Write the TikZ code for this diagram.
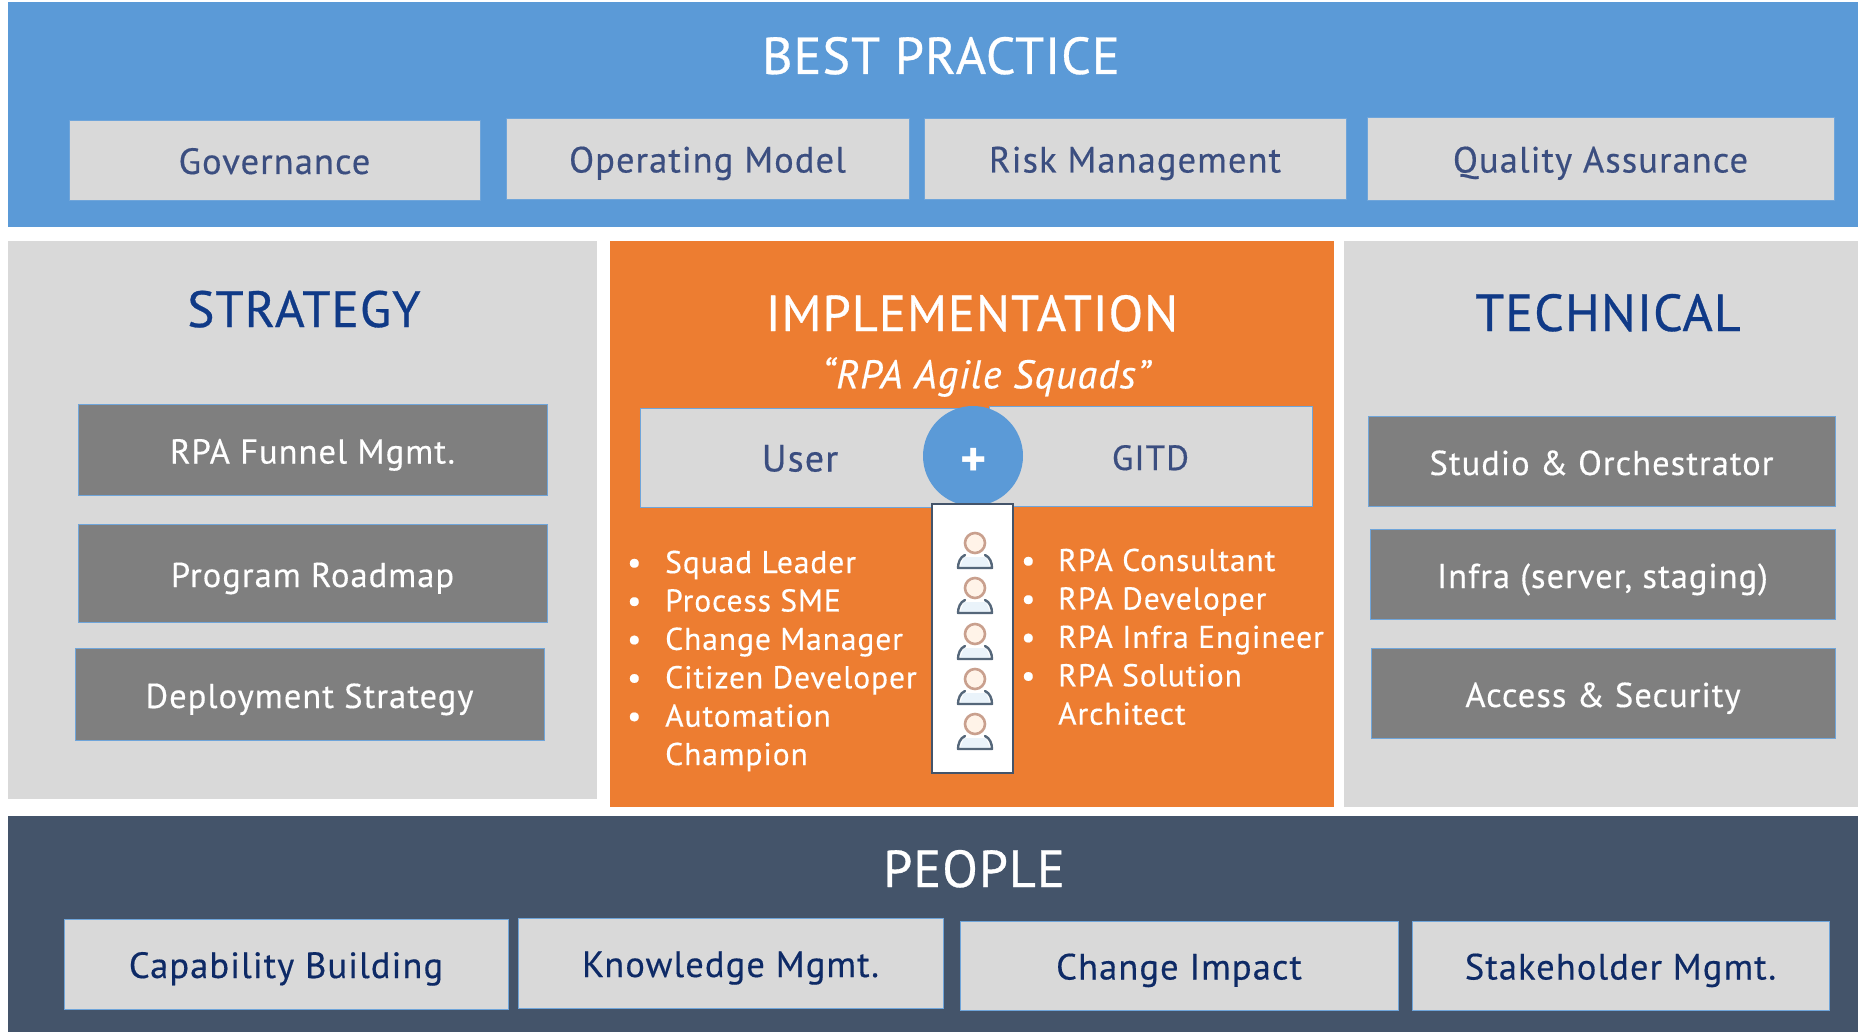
\documentclass[tikz,border=0pt]{standalone}
\usepackage{fontspec}
\setmainfont{PT Sans}[LetterSpace=3,FakeBold=0.4]
\newfontfamily\titlefont{PT Sans}[LetterSpace=2,FakeBold=0.6]
\newfontfamily\plusfont{PT Sans Bold}
\definecolor{bandblue}{HTML}{5B9AD7}
\definecolor{panelgray}{HTML}{D9D9D9}
\definecolor{implorange}{HTML}{ED7D31}
\definecolor{bandnavy}{HTML}{44546A}
\definecolor{midgray}{HTML}{7F7F7F}
\definecolor{titleblue}{HTML}{103A87}
\definecolor{softnavy}{HTML}{3B4E80}
\definecolor{deepnavy}{HTML}{0E2A66}
\definecolor{edgeblue}{HTML}{6FA5DA}
\definecolor{headring}{HTML}{C9A08E}
\definecolor{headfill}{HTML}{FFF3E8}
\definecolor{bodyline}{HTML}{55677A}
\definecolor{bodyfill}{HTML}{EAF3FA}
\newcommand{\boxat}[7]{\node[#2,minimum width={(#5-#3)*1pt},minimum height={(#6-#4)*1pt}] (#1) at ({(#3+#5)/2},{(#4+#6)/2}) {#7};}
\tikzset{
  plain/.style={rectangle,inner sep=0pt,outer sep=0pt},
  band/.style={plain,fill=#1},
  chip/.style={plain,fill=panelgray,draw=edgeblue,line width=0.9pt,font=\fontsize{36.5}{40}\selectfont,text height=28pt,text depth=0pt},
  softchip/.style={chip,text=softnavy},
  deepchip/.style={chip,text=deepnavy},
  darkchip/.style={plain,fill=midgray,draw=edgeblue,line width=0.9pt,text=white,font=\fontsize{34.5}{40}\selectfont,text height=28pt,text depth=0pt},
  bigtitle/.style={inner sep=0pt,font=\titlefont\fontsize{52}{56}\selectfont,text height=36pt,text depth=0pt},
  listtext/.style={inner sep=0pt,anchor=north west,text=white,font=\fontsize{31.5}{38.4}\selectfont},
}
\begin{document}
\begin{tikzpicture}[x=1pt,y=-1pt]
\useasboundingbox (0,0) rectangle (1858,1032);
\boxat{bestband}{band=bandblue}{8}{2}{1858}{227}{}
\boxat{stratpanel}{band=panelgray}{8}{241}{597}{799}{}
\boxat{implpanel}{band=implorange}{610}{241}{1334}{807}{}
\boxat{techpanel}{band=panelgray}{1344}{241}{1858}{807}{}
\boxat{peopleband}{band=bandnavy}{8}{816}{1858}{1032}{}

\node[bigtitle,text=white] (besttitle) at (941,56) {BEST PRACTICE};
\boxat{gov}{softchip}{69}{120}{480}{200}{Governance}
\boxat{opm}{softchip}{506}{118}{909}{199}{Operating Model}
\boxat{risk}{softchip}{924}{118}{1346}{199}{Risk Management}
\boxat{qual}{softchip}{1367}{117}{1834}{200}{Quality Assurance}

\node[bigtitle,text=titleblue,font=\titlefont\fontsize{51}{56}\selectfont] (strattitle) at (304,309) {STRATEGY};
\boxat{funnel}{darkchip}{78}{404}{547}{495}{RPA Funnel Mgmt.}
\boxat{roadmap}{darkchip}{78}{524}{547}{622}{Program Roadmap}
\boxat{deploy}{darkchip}{75}{648}{544}{740}{Deployment Strategy}

\node[bigtitle,text=white,font=\titlefont\fontsize{50.5}{56}\selectfont] (impltitle) at (972,313) {IMPLEMENTATION};
\node[inner sep=0pt,text=white,font=\itshape\fontsize{40}{44}\selectfont] (squads) at (986,377) {“RPA Agile Squads”};
\boxat{user}{softchip,font=\fontsize{38}{40}\selectfont}{640}{408}{960}{507}{User}
\boxat{gitd}{softchip,font=\fontsize{35}{40}\selectfont}{989}{406}{1312}{506}{GITD}
\node[circle,fill=bandblue,minimum size=100pt,inner sep=0pt] (plus) at (973,456) {};
\node[inner sep=0pt,text=white,font=\plusfont\fontsize{50}{50}\selectfont] (plussign) at (974,462) {+};
\boxat{people}{plain,fill=white,draw=bandnavy,line width=1.8pt}{932}{504}{1013}{773}{}
\foreach \hy in {543,588,634,679,724}{
  \fill[bodyfill] (960,{\hy+24}) -- (964,{\hy+14}) -- (986,{\hy+14}) -- (990,{\hy+24}) -- cycle;
  \draw[bodyline,line width=2.4pt,line cap=round,line join=round] (965,{\hy+12}) .. controls (960,{\hy+14}) and (958,{\hy+20}) .. (958,{\hy+25}) -- (992,{\hy+25}) .. controls (992,{\hy+20}) and (990,{\hy+14}) .. (985,{\hy+12});
  \draw[headring,fill=headfill,line width=2.6pt] (975,\hy) circle (10);
}
\node[listtext] (leftlist) at (627,546) {\begin{tabular}{@{}p{38pt}@{}l@{}}
•&Squad Leader\\
•&Process SME\\
•&Change Manager\\
•&Citizen Developer\\
•&Automation\\
&Champion
\end{tabular}};
\node[listtext] (rightlist) at (1021,544) {\begin{tabular}{@{}p{37pt}@{}l@{}}
•&RPA Consultant\\
•&RPA Developer\\
•&RPA Infra Engineer\\
•&RPA Solution\\
&Architect
\end{tabular}};

\node[bigtitle,text=titleblue] (techtitle) at (1608,313) {TECHNICAL};
\boxat{studio}{darkchip}{1368}{416}{1835}{506}{Studio \& Orchestrator}
\boxat{infra}{darkchip}{1370}{529}{1835}{619}{Infra (server, staging)}
\boxat{access}{darkchip}{1371}{648}{1835}{738}{Access \& Security}

\node[bigtitle,text=white] (peopletitle) at (974,869) {PEOPLE};
\boxat{capab}{deepchip}{64}{919}{508}{1009}{Capability Building}
\boxat{know}{deepchip}{518}{918}{943}{1008}{Knowledge Mgmt.}
\boxat{change}{deepchip}{960}{921}{1398}{1010}{Change Impact}
\boxat{stake}{deepchip}{1412}{921}{1829}{1010}{Stakeholder Mgmt.}
\end{tikzpicture}
\end{document}
